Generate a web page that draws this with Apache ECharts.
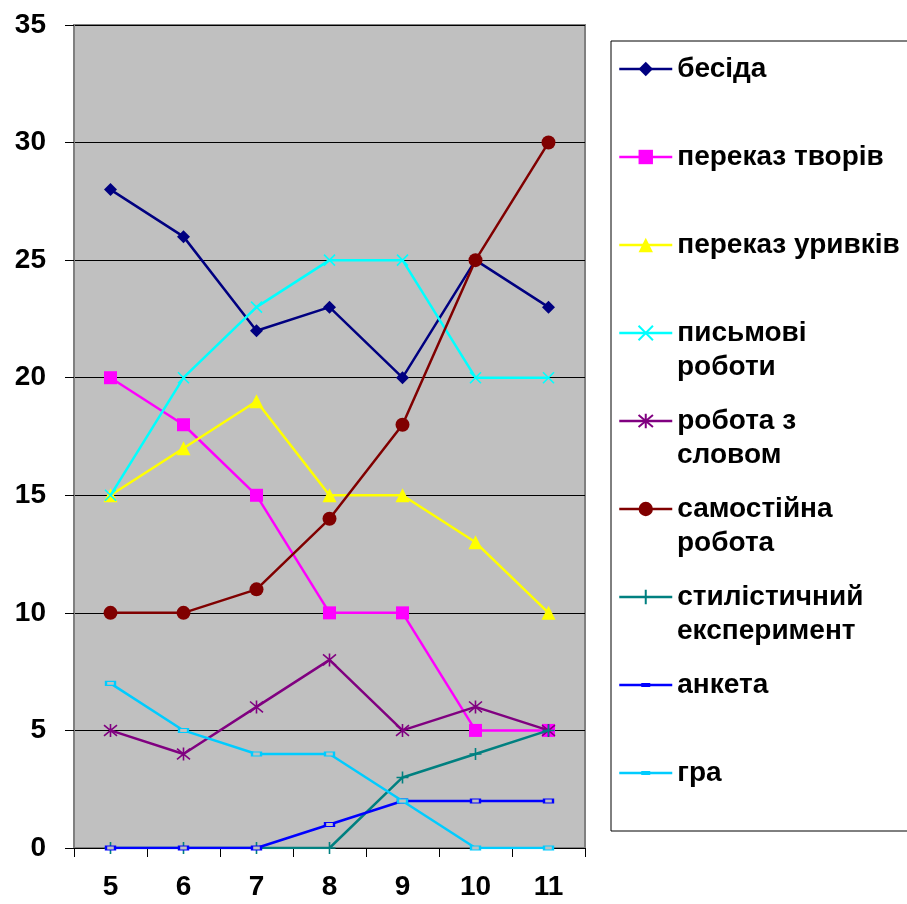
<!DOCTYPE html>
<html>
<head>
<meta charset="utf-8">
<script src="https://cdn.jsdelivr.net/npm/echarts@6/dist/echarts.min.js"></script>
<style>
  html, body { margin: 0; padding: 0; background: #ffffff; }
  #chart { width: 907px; height: 904px; }
</style>
</head>
<body>
<div id="chart"></div>
<script>
// Grades (classes) on the x axis
const grades = ['5', '6', '7', '8', '9', '10', '11'];
const yTicks = [0, 5, 10, 15, 20, 25, 30, 35];

// Values per form of work, by grade
const besida          = [28, 26, 22, 23, 20, 25, 23];
const perekazTvoriv   = [20, 18, 15, 10, 10, 5, 5];
const perekazUryvkiv  = [15, 17, 19, 15, 15, 13, 10];
const pysmoviRoboty   = [15, 20, 23, 25, 25, 20, 20];
const robotaZSlovom   = [5, 4, 6, 8, 5, 6, 5];
const samostiinaRob   = [10, 10, 11, 14, 18, 25, 30];
const styleExperiment = [0, 0, 0, 0, 3, 4, 5];
const anketa          = [0, 0, 0, 1, 2, 2, 2];
const hra             = [7, 5, 4, 4, 2, 0, 0];

// Legend labels, split into the lines they are shown on
const labelLines = [
  ['бесіда'],
  ['переказ творів'],
  ['переказ уривків'],
  ['письмові', 'роботи'],
  ['робота з', 'словом'],
  ['самостійна', 'робота'],
  ['стилістичний', 'експеримент'],
  ['анкета'],
  ['гра']
];
const seriesValues = [besida, perekazTvoriv, perekazUryvkiv, pysmoviRoboty,
  robotaZSlovom, samostiinaRob, styleExperiment, anketa, hra];

const FONT = '"Liberation Sans", Arial, sans-serif';
const PLOT_BG = '#c0c0c0';

const styles = [
  { color: '#000080', symbol: 'diamond', size: 13 },
  { color: '#ff00ff', symbol: 'rect', size: 13 },
  { color: '#ffff00', symbol: 'triangle', size: 14 },
  { color: '#00ffff', symbol: 'path://M0,0L10,10M10,0L0,10', size: 11, stroke: true },
  { color: '#800080', symbol: 'path://M0,0L10,10M10,0L0,10M5,-1L5,11', size: 13, stroke: true },
  { color: '#800000', symbol: 'circle', size: 14 },
  { color: '#008080', symbol: 'path://M5,0L5,12M1,6L9,6', size: 12, stroke: true },
  { color: '#0000ff', symbol: 'rect', size: [9, 4], hollow: true },
  { color: '#00ccff', symbol: 'rect', size: [9, 4], hollow: true }
];

// Legend icon for the dash-marker series: a line with a short thicker dash
const DASH_ICON = 'path://M0,1.75L53,1.75L53,4.25L0,4.25ZM22,1L31,1L31,5L22,5Z';

const names = labelLines.map(l => l.join(' '));
const firstLine = {};
labelLines.forEach((l, i) => { firstLine[names[i]] = l[0]; });

const series = names.map((name, i) => {
  const s = styles[i];
  return {
    name: name,
    type: 'line',
    data: seriesValues[i],
    symbol: s.symbol,
    symbolSize: s.size,
    showSymbol: true,
    animation: false,
    lineStyle: { color: s.color, width: 2.5 },
    itemStyle: {
      color: s.hollow ? PLOT_BG : s.color,
      borderColor: s.color,
      borderWidth: (s.stroke || s.hollow) ? 1.6 : 0
    },
    z: 2 + i
  };
});

const legendData = names.map((name, i) => {
  const s = styles[i];
  if (s.hollow) {
    return { name: name, icon: DASH_ICON, itemStyle: { color: s.color, borderWidth: 0 } };
  }
  return { name: name };
});

// Legend rows: 88px apart, wrapped second lines sit 35px below the first
const LEGEND_FIRST_Y = 70;
const LEGEND_STEP = 88;
const graphics = [];
labelLines.forEach((l, i) => {
  if (l.length > 1) {
    graphics.push({
      type: 'text',
      left: 677,
      top: LEGEND_FIRST_Y + i * LEGEND_STEP + 35 - 16,
      style: {
        text: l[1],
        font: 'bold 28px ' + FONT,
        fill: '#000000'
      },
      z: 10
    });
  }
});

const chart = echarts.init(document.getElementById('chart'), null, { renderer: 'canvas' });
chart.setOption({
  backgroundColor: '#ffffff',
  animation: false,
  grid: {
    left: 74, right: 322, top: 25, bottom: 56,
    show: true,
    backgroundColor: PLOT_BG,
    borderColor: '#808080',
    borderWidth: 2
  },
  legend: {
    orient: 'vertical',
    left: 611,
    top: 41,
    padding: [12, 40, 42, 7],
    itemWidth: 53,
    itemHeight: 18,
    itemGap: LEGEND_STEP - 32,
    borderColor: '#000000',
    borderWidth: 1,
    backgroundColor: '#ffffff',
    data: legendData,
    formatter: n => firstLine[n],
    lineStyle: { width: 2.5 },
    textStyle: {
      fontFamily: FONT,
      fontWeight: 'bold',
      fontSize: 28,
      lineHeight: 32,
      color: '#000000'
    }
  },
  xAxis: {
    type: 'category',
    data: grades,
    boundaryGap: true,
    axisLine: { lineStyle: { color: '#000000', width: 1 } },
    axisTick: { show: true, length: 9, lineStyle: { color: '#000000' } },
    axisLabel: {
      margin: 25,
      fontFamily: FONT,
      fontWeight: 'bold',
      fontSize: 28,
      color: '#000000'
    },
    splitLine: { show: false }
  },
  yAxis: {
    type: 'value',
    min: yTicks[0],
    max: yTicks[yTicks.length - 1],
    interval: 5,
    axisLine: { show: true, lineStyle: { color: '#808080', width: 2 } },
    axisTick: { show: true, length: 9, lineStyle: { color: '#000000' } },
    axisLabel: {
      margin: 28,
      fontFamily: FONT,
      fontWeight: 'bold',
      fontSize: 28,
      color: '#000000'
    },
    splitLine: { show: true, lineStyle: { color: '#000000', width: 1 } }
  },
  graphic: graphics,
  series: series
});
</script>
</body>
</html>
